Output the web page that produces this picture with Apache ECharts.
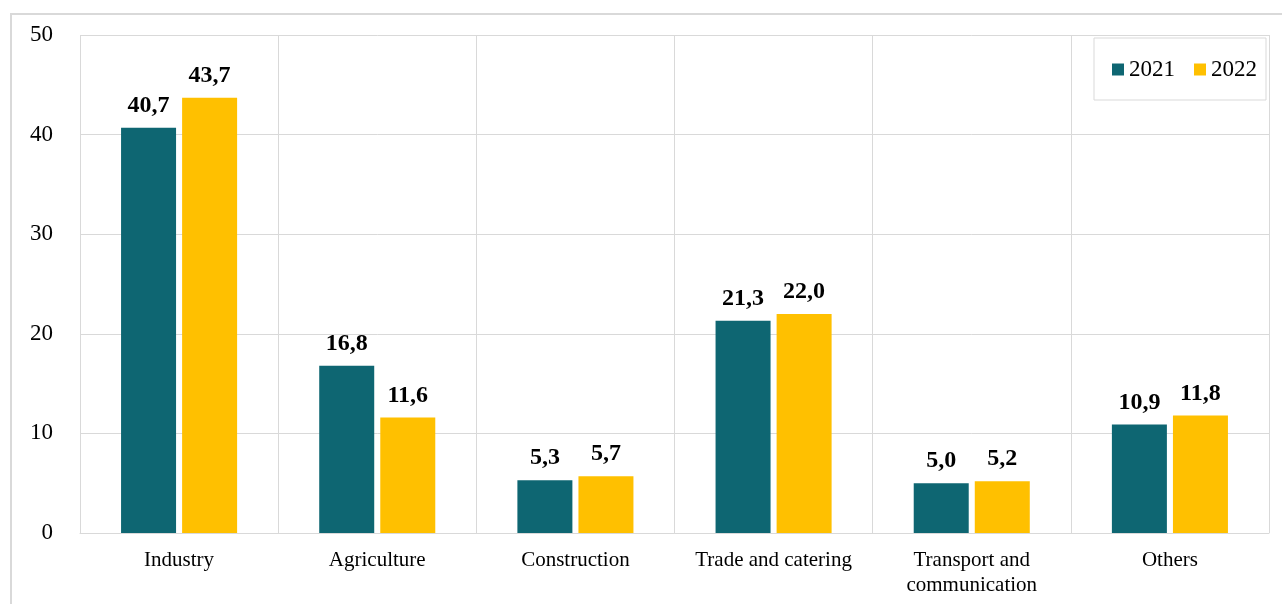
<!DOCTYPE html>
<html>
<head>
<meta charset="utf-8">
<script src="https://cdn.jsdelivr.net/npm/echarts@6/dist/echarts.min.js"></script>
<style>
  html, body { margin: 0; padding: 0; background: #fff; }
  #chart { width: 1282px; height: 604px; }
</style>
</head>
<body>
<div id="chart"></div>
<script>
const categories = ['Industry', 'Agriculture', 'Construction', 'Trade and catering', 'Transport and\ncommunication', 'Others'];
const values2021 = [40.7, 16.8, 5.3, 21.3, 5.0, 10.9];
const values2022 = [43.7, 11.6, 5.7, 22.0, 5.2, 11.8];
const seriesNames = ['2021', '2022'];
const yTicks = { min: 0, max: 50, interval: 10 };

const font = '"Liberation Serif", "Times New Roman", serif';
const fmt = p => p.value.toFixed(1).replace('.', ',');

const chart = echarts.init(document.getElementById('chart'), null, { renderer: 'canvas' });
const labelCfg = {
  show: true, position: 'top', distance: 10, formatter: fmt,
  fontFamily: font, fontWeight: 'bold', fontSize: 24, color: '#000'
};
chart.setOption({
  animation: false,
  backgroundColor: '#fff',
  graphic: [{
    type: 'rect', silent: true, z: -1,
    shape: { x: 11, y: 14, width: 1400, height: 700 },
    style: { fill: 'none', stroke: '#d9d9d9', lineWidth: 2 }
  }],
  grid: { left: 80, right: 13, top: 35, bottom: 71, containLabel: false },
  legend: {
    right: 16, top: 38,
    padding: [20, 9, 19, 18],
    borderColor: '#d9d9d9', borderWidth: 1,
    itemWidth: 12, itemHeight: 12, itemGap: 19,
    icon: 'rect',
    textStyle: { fontFamily: font, fontSize: 23, color: '#000' },
    data: seriesNames
  },
  xAxis: {
    type: 'category', data: categories,
    axisLine: { show: true, lineStyle: { color: '#d9d9d9', width: 1 } },
    axisTick: { show: false },
    splitLine: { show: true, interval: 0, lineStyle: { color: '#d9d9d9', width: 1 } },
    axisLabel: { interval: 0, margin: 15, fontFamily: font, fontSize: 21, color: '#000', lineHeight: 25 }
  },
  yAxis: {
    type: 'value', min: yTicks.min, max: yTicks.max, interval: yTicks.interval,
    axisLine: { show: false }, axisTick: { show: false },
    splitLine: { show: true, lineStyle: { color: '#d9d9d9', width: 1 } },
    axisLabel: { margin: 27, fontFamily: font, fontSize: 23, color: '#000', padding: [3, 0, 0, 0] }
  },
  series: [
    { name: seriesNames[0], type: 'bar', data: values2021, barWidth: 55, barGap: '11%',
      itemStyle: { color: '#0e6672' }, label: labelCfg },
    { name: seriesNames[1], type: 'bar', data: values2022, barWidth: 55, barGap: '11%',
      itemStyle: { color: '#ffc000' }, label: labelCfg }
  ]
});
</script>
</body>
</html>
